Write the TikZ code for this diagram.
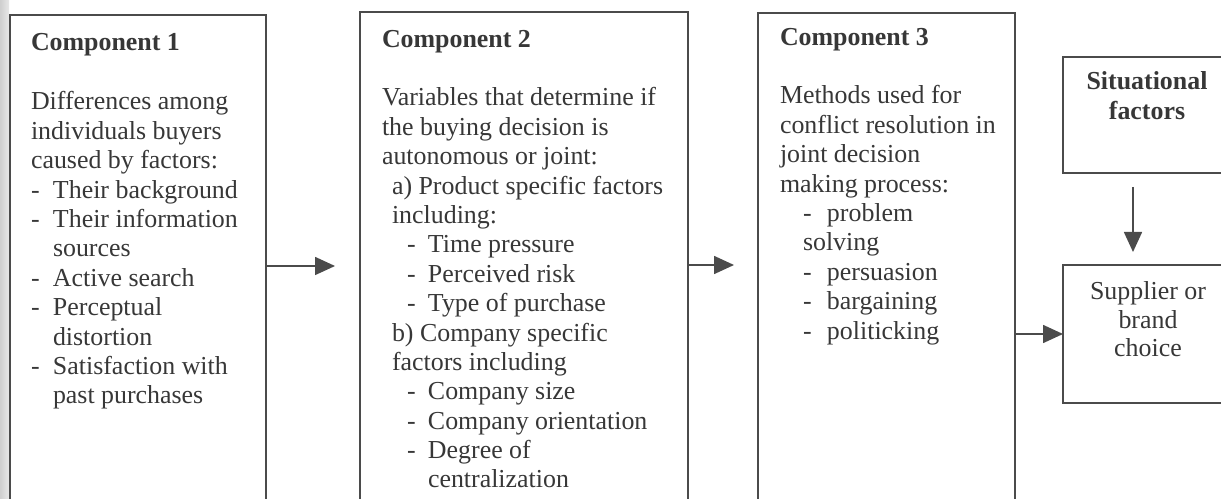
\documentclass[tikz,border=0pt]{standalone}
\usepackage{fontspec}
\setmainfont{Liberation Serif}
\usetikzlibrary{arrows.meta}

\definecolor{ink}{RGB}{55,55,55}
\definecolor{rule}{RGB}{75,75,75}

\newcommand{\bodyfont}{\fontsize{26}{29.5}\selectfont}
\newcommand{\itm}[1]{\makebox[#1][l]{-}}

\tikzset{
  box/.style={draw=rule, line width=1.6bp, rectangle, inner sep=0pt, outer sep=0pt, anchor=north west},
  txt/.style={anchor=base west, inner sep=0pt, outer sep=0pt, text=ink, font=\bodyfont},
  ctxt/.style={anchor=base, inner sep=0pt, outer sep=0pt, text=ink, font=\bodyfont},
  arr/.style={draw=rule, line width=1.6bp, -{Triangle[length=20bp,width=18bp]}}
}

\begin{document}
\begin{tikzpicture}[x=1bp, y=-1bp]
  \useasboundingbox (0,0) rectangle (1221,499);
  \fill[left color=gray!38, right color=gray!18] (0,0) rectangle (9,499);

  % the three component boxes (they run past the lower edge)
  \node[box, minimum width=256bp, minimum height=500bp] (c1) at (10,15) {};
  \node[box, minimum width=328bp, minimum height=500bp] (c2) at (360,12) {};
  \node[box, minimum width=257bp, minimum height=500bp] (c3) at (758,13) {};

  % outcome boxes on the right (cut by the right edge)
  \node[box, minimum width=167bp, minimum height=116bp] (sit) at (1063,57) {};
  \node[box, minimum width=167bp, minimum height=138bp] (sup) at (1063,265) {};

  % component 1
  \node[txt] (t1) at (31,51) {\parbox[t]{235bp}{\bodyfont
    \textbf{Component 1}\\[29.5bp]
    Differences among\\
    individuals buyers\\
    caused by factors:\\
    \itm{22bp}Their background\\
    \itm{22bp}Their information\\
    \hspace*{22bp}sources\\
    \itm{22bp}Active search\\
    \itm{22bp}Perceptual\\
    \hspace*{22bp}distortion\\
    \itm{22bp}Satisfaction with\\
    \hspace*{22bp}past purchases}};

  % component 2
  \node[txt] (t2) at (382,48) {\parbox[t]{300bp}{\bodyfont
    \textbf{Component 2}\\[28.5bp]
    Variables that determine if\\
    the buying decision is\\
    autonomous or joint:\\
    \hspace*{10bp}a) Product specific factors\\
    \hspace*{10bp}including:\\
    \hspace*{25bp}\itm{21bp}Time pressure\\
    \hspace*{25bp}\itm{21bp}Perceived risk\\
    \hspace*{25bp}\itm{21bp}Type of purchase\\
    \hspace*{10bp}b) Company specific\\
    \hspace*{10bp}factors including\\
    \hspace*{25bp}\itm{21bp}Company size\\
    \hspace*{25bp}\itm{21bp}Company orientation\\
    \hspace*{25bp}\itm{21bp}Degree of\\
    \hspace*{46bp}centralization}};

  % component 3
  \node[txt] (t3) at (780,46) {\parbox[t]{230bp}{\bodyfont
    \textbf{Component 3}\\[28.5bp]
    Methods used for\\
    conflict resolution in\\
    joint decision\\
    making process:\\
    \hspace*{23bp}\itm{24bp}problem\\
    \hspace*{23bp}solving\\
    \hspace*{23bp}\itm{24bp}persuasion\\
    \hspace*{23bp}\itm{24bp}bargaining\\
    \hspace*{23bp}\itm{24bp}politicking}};

  % right-hand boxes
  \node[ctxt] (ts) at (1147,90) {\parbox[t]{160bp}{\centering\bodyfont\bfseries
    Situational\\[0.5bp]factors}};
  \node[ctxt] (tp) at (1148,300) {\parbox[t]{160bp}{\centering\bodyfont
    Supplier or\\[-1bp]brand\\[-1bp]choice}};

  % connectors
  \coordinate (e1) at (335,266);
  \coordinate (e2) at (734,265);
  \coordinate (y3) at (0,334);
  \coordinate (s4) at (1133,187);
  \coordinate (e4) at (1133,252);
  \draw[arr] (c1.east |- e1) -- (e1);
  \draw[arr] (c2.east |- e2) -- (e2);
  \draw[arr] (c3.east |- y3) -- (sup.west |- y3);
  \draw[arr] (s4) -- (e4);
\end{tikzpicture}
\end{document}
